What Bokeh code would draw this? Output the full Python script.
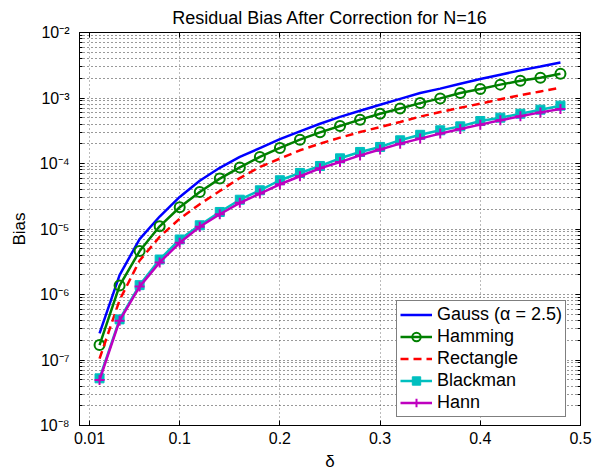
import math
from bokeh.plotting import figure
from bokeh.models import (FixedTicker, CustomJSTickFormatter, LinearAxis, LogAxis,
                          Legend, LegendItem, Range1d, CustomLabelingPolicy)
from bokeh.embed import file_html
from bokeh.resources import INLINE

# ---- data ----
delta = [0.02, 0.04, 0.06, 0.08, 0.10, 0.12, 0.14, 0.16, 0.18, 0.20, 0.22, 0.24,
         0.26, 0.28, 0.30, 0.32, 0.34, 0.36, 0.38, 0.40, 0.42, 0.44, 0.46, 0.48]

gauss = [2.55e-7, 1.98e-6, 7.0e-6, 1.55e-5, 3.09e-5, 5.45e-5, 8.6e-5, 1.26e-4,
         1.72e-4, 2.35e-4, 3.1e-4, 4.05e-4, 5.15e-4, 6.4e-4, 7.9e-4, 9.7e-4,
         1.19e-3, 1.39e-3, 1.65e-3, 1.95e-3, 2.27e-3, 2.64e-3, 3.03e-3, 3.49e-3]

hamming = [1.69e-7, 1.37e-6, 4.6e-6, 1.1e-5, 2.15e-5, 3.68e-5, 5.88e-5, 8.7e-5,
           1.26e-4, 1.73e-4, 2.31e-4, 2.99e-4, 3.73e-4, 4.67e-4, 5.75e-4, 6.93e-4,
           8.36e-4, 9.86e-4, 1.19e-3, 1.37e-3, 1.6e-3, 1.83e-3, 2.04e-3, 2.34e-3]

rectangle = [1.05e-7, 8.2e-7, 3.3e-6, 7.6e-6, 1.44e-5, 2.39e-5, 3.8e-5, 6.0e-5,
             8.85e-5, 1.19e-4, 1.59e-4, 2.01e-4, 2.48e-4, 3.02e-4, 3.6e-4, 4.3e-4,
             5.2e-4, 6.1e-4, 7.1e-4, 8.2e-4, 9.6e-4, 1.1e-3, 1.26e-3, 1.44e-3]

blackman = [5.25e-8, 4.17e-7, 1.39e-6, 3.42e-6, 6.92e-6, 1.14e-5, 1.82e-5, 2.8e-5,
            3.9e-5, 5.55e-5, 7.17e-5, 9.17e-5, 1.2e-4, 1.5e-4, 1.79e-4, 2.26e-4,
            2.74e-4, 3.21e-4, 3.69e-4, 4.45e-4, 5.01e-4, 5.75e-4, 6.63e-4, 7.64e-4]

hann = [4.95e-8, 3.98e-7, 1.32e-6, 3.09e-6, 6.17e-6, 1.08e-5, 1.68e-5, 2.51e-5,
        3.47e-5, 4.82e-5, 6.38e-5, 8.45e-5, 1.05e-4, 1.33e-4, 1.64e-4, 2.01e-4,
        2.40e-4, 2.86e-4, 3.36e-4, 3.92e-4, 4.56e-4, 5.25e-4, 6.03e-4, 6.78e-4]

x_ticks = [0.01, 0.1, 0.2, 0.3, 0.4, 0.5]
y_ticks = [1e-8, 1e-7, 1e-6, 1e-5, 1e-4, 1e-3, 1e-2]
y_minor = [k * 10.0 ** e for e in range(-8, -2) for k in range(2, 10)]

FONT = "Liberation Sans"

p = figure(width=609, height=474, y_axis_type="log",
           x_range=Range1d(0, 0.5), y_range=Range1d(1e-8, 1e-2),
           output_backend="svg", toolbar_location=None,
           min_border_left=79, min_border_right=29,
           min_border_top=32, min_border_bottom=49,
           title="Residual Bias After Correction for N=16")
p.background_fill_color = "white"
p.border_fill_color = "white"
p.outline_line_color = "black"
p.outline_line_width = 1

p.title.align = "center"
p.title.text_font = FONT
p.title.text_font_size = "18px"
p.title.text_font_style = "normal"
p.title.text_color = "black"
p.title.standoff = 9

xfmt = CustomJSTickFormatter(code="return String(Math.round(tick*100)/100);")
yfmt = CustomJSTickFormatter(code="""
const e = Math.round(Math.log10(tick));
const sup = {'-':'\u207b','0':'\u2070','1':'\u00b9','2':'\u00b2','3':'\u00b3','4':'\u2074',
             '5':'\u2075','6':'\u2076','7':'\u2077','8':'\u2078','9':'\u2079'};
return '10' + String(e).split('').map(c => sup[c]).join('');
""")

no_labels = CustomLabelingPolicy(code="""
const ids = Array.from(indices);
for (const i of ids) indices.unset(i);
return indices;
""")

xt = FixedTicker(ticks=x_ticks)
yt = FixedTicker(ticks=y_ticks, minor_ticks=y_minor)


def style_axis(ax, show_labels):
    ax.axis_line_color = "black"
    ax.major_tick_line_color = "black"
    ax.minor_tick_line_color = "black"
    ax.major_tick_in = 5
    ax.major_tick_out = 0
    ax.minor_tick_in = 3
    ax.minor_tick_out = 0
    ax.major_label_text_font = FONT
    ax.major_label_text_color = "black"
    if show_labels:
        ax.major_label_text_font_size = "16px"
    else:
        ax.major_label_text_font_size = "0px"
        ax.major_label_policy = no_labels
        ax.major_label_standoff = 0


xa = p.xaxis[0]
xa.ticker = xt
xa.formatter = xfmt
xa.major_label_standoff = 6
xa.axis_label = "\u03b4"
xa.axis_label_text_font = FONT
xa.axis_label_text_font_size = "17px"
xa.axis_label_text_font_style = "normal"
xa.axis_label_text_color = "black"
xa.axis_label_standoff = 5
style_axis(xa, True)

ya = p.yaxis[0]
ya.ticker = yt
ya.formatter = yfmt
ya.major_label_standoff = 10
ya.axis_label = "Bias"
ya.axis_label_text_font = FONT
ya.axis_label_text_font_size = "17px"
ya.axis_label_text_font_style = "normal"
ya.axis_label_text_color = "black"
ya.axis_label_standoff = 8
style_axis(ya, True)

top = LinearAxis(ticker=FixedTicker(ticks=x_ticks), formatter=xfmt)
style_axis(top, False)
p.add_layout(top, "above")
right = LogAxis(ticker=FixedTicker(ticks=y_ticks, minor_ticks=y_minor), formatter=yfmt)
style_axis(right, False)
p.add_layout(right, "right")

# grids: dotted, as in MATLAB "grid on; grid minor"
p.xgrid.ticker = xt
p.xgrid.grid_line_color = "#777777"
p.xgrid.grid_line_dash = "1 3"
p.xgrid.grid_line_width = 1
p.ygrid.ticker = yt
p.ygrid.grid_line_color = "#333333"
p.ygrid.grid_line_dash = "1 3"
p.ygrid.grid_line_width = 1
p.ygrid.minor_grid_line_color = "#333333"
p.ygrid.minor_grid_line_dash = "1 3"
p.ygrid.minor_grid_line_width = 1

LW = 2.5
r_gauss = p.line(delta, gauss, line_color="#0000FF", line_width=LW)
r_ham_l = p.line(delta, hamming, line_color="#008000", line_width=LW)
r_ham_m = p.scatter(delta, hamming, marker="circle", size=10, line_color="#008000",
                    line_width=2, fill_color=None)
r_rect = p.line(delta, rectangle, line_color="#FF0000", line_width=LW, line_dash="8 5")
r_bl_l = p.line(delta, blackman, line_color="#00BFBF", line_width=LW)
r_bl_m = p.scatter(delta, blackman, marker="square", size=9, line_color="#00BFBF",
                   fill_color="#00BFBF")
r_hn_l = p.line(delta, hann, line_color="#BF00BF", line_width=LW)
r_hn_m = p.scatter(delta, hann, marker="cross", size=10, line_color="#BF00BF",
                   line_width=2)

legend = Legend(items=[
    LegendItem(label="Gauss (\u03b1 = 2.5)", renderers=[r_gauss]),
    LegendItem(label="Hamming", renderers=[r_ham_l, r_ham_m]),
    LegendItem(label="Rectangle", renderers=[r_rect]),
    LegendItem(label="Blackman", renderers=[r_bl_l, r_bl_m]),
    LegendItem(label="Hann", renderers=[r_hn_l, r_hn_m]),
], location=(317, 8))
legend.border_line_color = "black"
legend.border_line_width = 1
legend.background_fill_color = "white"
legend.background_fill_alpha = 1
legend.label_text_font = FONT
legend.label_text_font_size = "18px"
legend.label_text_color = "black"
legend.label_height = 21
legend.glyph_height = 21
legend.glyph_width = 32
legend.label_standoff = 5
legend.spacing = 1
legend.padding = 3
legend.margin = 0
p.add_layout(legend, "center")

open("out.html", "w").write(file_html(p, INLINE))
